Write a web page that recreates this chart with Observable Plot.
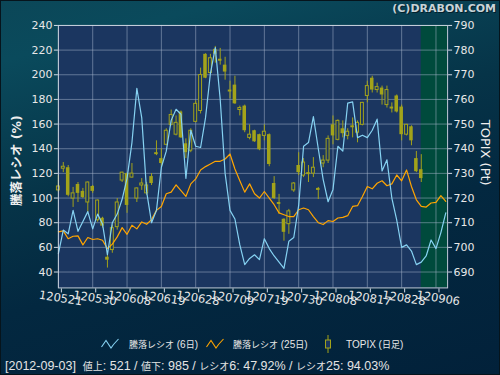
<!DOCTYPE html>
<html>
<head>
<meta charset="utf-8">
<script src="https://cdn.jsdelivr.net/npm/d3@7"></script>
<script src="https://cdn.jsdelivr.net/npm/@observablehq/plot@0.6"></script>
<style>
  html, body { margin: 0; padding: 0; }
  body { width: 500px; height: 375px; overflow: hidden; }
  #wrap {
    position: relative; width: 500px; height: 375px; box-sizing: border-box;
    border: 1px solid #06141c;
    background: linear-gradient(165deg, #0b4758 0%, #0a4a5c 12%, #063448 40%, #032840 62%, #02213a 100%);
    font-family: "DejaVu Sans", "Noto Sans CJK JP", sans-serif;
    color: #e8e8e8;
  }
  #chart { position: absolute; left: -1px; top: -1px; }
  #copy { position: absolute; right: 3px; top: 1px; font-size: 11px; font-weight: bold; color: #c9d3d8; text-shadow: 1px 1px 0 #03202c; }
  #legend { position: absolute; top: 334px; left: 0; width: 500px; height: 18px; font-size: 10px; font-family: "Liberation Sans", "Noto Sans CJK JP", sans-serif; }
  #legend .item { position: absolute; top: 0; display: flex; align-items: center; height: 18px; white-space: pre; }
  #legend svg { display: block; }
  #legend .cj { font-family: "Noto Sans CJK JP", sans-serif; font-size: 9px; }
  #footer { position: absolute; top: 357px; left: 4px; font-size: 12.5px; white-space: pre; color: #e4e4e4; font-family: "Liberation Sans", "Noto Sans CJK JP", sans-serif; }
  #footer .cj { font-family: "Noto Sans CJK JP", sans-serif; font-size: 10px; }
</style>
</head>
<body>
<div id="wrap">
  <div id="chart"></div>
  <div id="copy">(C)DRABON.COM</div>
  <div id="legend"></div>
  <div id="footer"></div>
</div>
<script>
// ---- data (trading-day index 0 = 2012-05-21) ----
const tickLabels = ["120521","120530","120608","120619","120628","120709","120719","120730","120808","120817","120828","120906"];
const tickDays   = [0, 7, 14, 21, 28, 35, 42, 49, 56, 63, 70, 77];

// 騰落レシオ (6日)
const ratio6 = [55,74,71,90,73,81,89,75,87,79,54,80,87,99,116,145,189,165,105,80,
  90,125,138,163,172,168,116,155,142,141,165,201,222,180,120,90,83,62,46,51,
  54,50,67,59,53,48,43,65,68,94,142,145,166,140,115,97,107,142,138,177,
  178,149,151,149,155,164,122,131,100,82,60,62,57,46,48,53,66,59,72,88];

// 騰落レシオ (25日)
const ratio25 = [72.5,73.4,67,69,69.3,62,68,66.4,67,65.8,59,62.6,68.5,76,70.6,78,75,80.6,78.7,82.5,
  90,93.2,103.5,104.8,110.7,106,101.3,111.5,115.5,122.8,125.5,127.6,129.8,129.8,131.7,135.7,123.6,114,104.8,111.5,
  103.5,100,105.3,100,94.6,88,86.5,85,85,90.5,91.9,90.5,85,80,78.5,81.7,81,83.8,84.3,85.7,
  93.2,93.8,101.3,109.4,107.5,112,114,110,111.5,118.7,114,122.8,109.4,98.6,93.2,92.7,96,96.5,101.9,97.3];

// TOPIX (日足)
const topixOpen  = [723.1,731.9,732.3,719.8,725.5,722.7,718.2,724.7,711.0,711.8,696.0,698.9,708.2,727.1,729.9,728.3,719.8,725.1,721.9,728.7,
  738.4,736.0,741.6,749.7,745.7,754.9,742.0,739.2,750.9,755.3,778.3,770.7,780.3,776.3,773.9,763.8,765.8,755.7,757.3,744.4,
  747.3,745.7,745.2,745.7,725.9,718.2,711.4,709.4,723.1,733.2,729.1,730.3,729.9,723.9,734.0,735.2,749.7,743.6,748.1,745.2,
  749.3,746.5,749.7,761.4,768.6,763.8,764.6,757.7,756.9,761.4,756.9,745.7,748.9,736.0,731.5];
const topixHigh  = [729.1,734.4,733.2,724.3,726.3,723.9,726.5,725.1,719.2,712.2,697.6,709.0,719.8,730.5,730.1,734.0,724.1,727.9,726.3,729.9,
  743.2,740.0,748.1,755.7,753.3,755.3,744.0,748.1,759.4,772.7,778.5,778.3,781.5,780.7,777.1,767.4,769.4,757.3,757.7,749.7,
  747.5,745.9,749.7,746.0,728.7,721.5,711.6,715.4,726.3,738.4,736.0,733.2,736.4,724.3,737.2,745.2,753.3,751.7,751.3,748.1,
  752.5,751.3,758.8,767.4,769.4,766.6,765.4,765.4,758.6,761.8,757.7,749.9,749.3,738.9,737.6];
const topixLow   = [722.3,730.3,720.5,716.2,718.2,719.8,714.2,721.9,710.2,707.8,691.6,697.6,707.0,726.3,713.8,728.1,718.2,723.1,721.1,725.1,
  737.2,732.3,741.2,749.3,745.2,744.2,736.0,738.4,750.5,754.1,768.4,770.5,774.7,773.9,767.8,760.2,758.0,753.3,746.5,743.6,
  742.6,739.2,743.2,732.7,719.4,713.4,702.5,705.3,722.3,729.1,728.3,726.3,728.3,719.4,732.3,734.0,741.6,743.2,744.4,743.6,
  744.4,742.4,749.3,758.6,762.6,762.6,757.7,756.5,754.5,754.5,743.2,745.2,741.2,730.3,726.3];
const topixClose = [724.7,732.7,721.1,721.9,721.9,720.2,726.3,722.7,719.0,708.6,694.8,707.8,718.2,730.3,717.0,729.9,723.9,725.9,725.1,725.9,
  737.6,734.0,747.3,753.7,750.5,744.4,738.4,747.3,758.2,769.9,768.6,776.7,778.3,775.5,771.1,763.0,758.2,756.5,747.3,745.7,
  742.8,739.6,746.9,733.6,719.8,717.4,706.1,714.6,725.9,730.3,734.4,729.5,732.3,723.1,735.2,744.0,745.2,751.3,746.1,746.9,
  748.5,750.5,758.6,765.4,763.8,765.0,761.8,763.8,756.1,754.9,745.7,749.7,743.2,730.7,727.9];

const leftTicks  = [40, 60, 80, 100, 120, 140, 160, 180, 200, 220, 240];
const legendLabels = ["騰落レシオ (6日)", "騰落レシオ (25日)", "TOPIX (日足)"];
const footerDate = "2012-09-03";
const footerAdv = 521, footerDec = 985, footerR6 = "47.92", footerR25 = "94.03";

// ---- scales / mapping ----
const yMin = 27.1, yMax = 240;
const xMax = 79.37;
const toRatio = t => 40 + (t - 690) * 2;      // TOPIX 690..790 -> ratio 40..240
const toTopix = r => 690 + (r - 40) / 2;
const lastDay = topixOpen.length - 1;          // 2012-09-03

const candles = topixOpen.map((o, i) => ({
  i, o: toRatio(o), c: toRatio(topixClose[i]), h: toRatio(topixHigh[i]), l: toRatio(topixLow[i]),
  up: topixClose[i] >= o
}));
const r6 = ratio6.map((v, i) => ({i, v}));
const r25 = ratio25.map((v, i) => ({i, v}));

const NAVY = "#1b3660", GREEN = "#004a3c", OLIVE = "#a3a31a", BLUE = "#86d2f2", ORANGE = "#ffa500";
const GRID = "#aab8cf", TEXT = "#e8e8e8";

const chart = Plot.plot({
  width: 500, height: 312,
  marginLeft: 58, marginRight: 52, marginTop: 25, marginBottom: 24,
  style: {background: "transparent", color: TEXT, fontFamily: "'DejaVu Sans', 'Noto Sans CJK JP', sans-serif"},
  x: {domain: [0, xMax], axis: null},
  y: {domain: [yMin, yMax], axis: null},
  marks: [
    Plot.frame({fill: NAVY}),
    Plot.rect([lastDay], {x1: d => d, x2: () => xMax, y1: () => yMin, y2: () => yMax, fill: GREEN}),
    Plot.gridY(leftTicks, {stroke: GRID, strokeOpacity: 0.5}),
    Plot.gridX(tickDays, {stroke: GRID, strokeOpacity: 0.5}),
    Plot.ruleX(candles, {x: "i", y1: "l", y2: "h", stroke: OLIVE, strokeWidth: 1}),
    Plot.rect(candles.filter(d => !d.up), {x1: d => d.i - 0.36, x2: d => d.i + 0.36, y1: "o", y2: "c", fill: OLIVE}),
    Plot.rect(candles.filter(d => d.up), {x1: d => d.i - 0.3, x2: d => d.i + 0.3, y1: "o", y2: "c", fill: NAVY, stroke: OLIVE, strokeWidth: 1}),
    Plot.line(r25, {x: "i", y: "v", stroke: ORANGE, strokeWidth: 1.2}),
    Plot.line(r6, {x: "i", y: "v", stroke: BLUE, strokeWidth: 1.2}),
    Plot.frame({stroke: "#d4dbe6", strokeOpacity: 0.9}),
    Plot.axisY(leftTicks, {anchor: "left", tickSize: 4, tickPadding: 2, fontSize: 11, label: null, stroke: "#d4dbe6"}),
    Plot.axisY(leftTicks, {anchor: "right", tickSize: 4, tickPadding: 2, fontSize: 11, label: null, stroke: "#d4dbe6",
      tickFormat: d => String(toTopix(d))}),
    Plot.axisX(tickDays, {anchor: "bottom", tickSize: 4, tickPadding: 1, fontSize: 11.5, label: null, stroke: "#d4dbe6",
      tickRotate: 9, textAnchor: "middle", dx: 3, dy: 1,
      tickFormat: d => tickLabels[tickDays.indexOf(d)]}),
    Plot.text(["騰落レシオ (%)"], {frameAnchor: "left", textAnchor: "middle", dx: -41, dy: 4, rotate: -90, fontSize: 12.5, fontWeight: "bold", fill: "#eeeeee"}),
    Plot.text(["TOPIX (Pt)"], {frameAnchor: "right", textAnchor: "middle", dx: 38, dy: -4, rotate: 90, fontSize: 13, fill: "#eeeeee"})
  ]
});
document.getElementById("chart").appendChild(chart);

// ---- legend ----
const cj = s => s.replace(/([\u3000-\u9fff\uff00-\uffef]+)/g, '<span class="cj">$1</span>');
const legend = document.getElementById("legend");
function zig(color) {
  return `<svg width="18" height="12" viewBox="0 0 18 12"><polyline points="0.5,9 5,2.5 10,10 12.5,6.5 17.5,1" fill="none" stroke="${color}" stroke-width="1.1"/></svg>`;
}
const candleIcon = `<svg width="8" height="18" viewBox="0 0 8 18"><line x1="4" y1="0" x2="4" y2="18" stroke="${OLIVE}" stroke-width="1"/><rect x="1.5" y="5" width="5" height="8" fill="${NAVY}" stroke="${OLIVE}" stroke-width="1"/></svg>`;
const items = [
  {left: 100, icon: zig(BLUE), text: legendLabels[0], gap: 10},
  {left: 205, icon: zig(ORANGE), text: legendLabels[1], gap: 9},
  {left: 323, icon: candleIcon, text: legendLabels[2], gap: 14}
];
items.forEach(it => {
  const el = document.createElement("div");
  el.className = "item";
  el.style.left = it.left + "px";
  el.innerHTML = it.icon + `<span style="margin-left:${it.gap}px">${cj(it.text)}</span>`;
  legend.appendChild(el);
});
const footerText = `[${footerDate}]  値上: ${footerAdv} / 値下: ${footerDec} / レシオ6: ${footerR6}% / レシオ25: ${footerR25}%`;
document.getElementById("footer").innerHTML = cj(footerText);
</script>
</body>
</html>
